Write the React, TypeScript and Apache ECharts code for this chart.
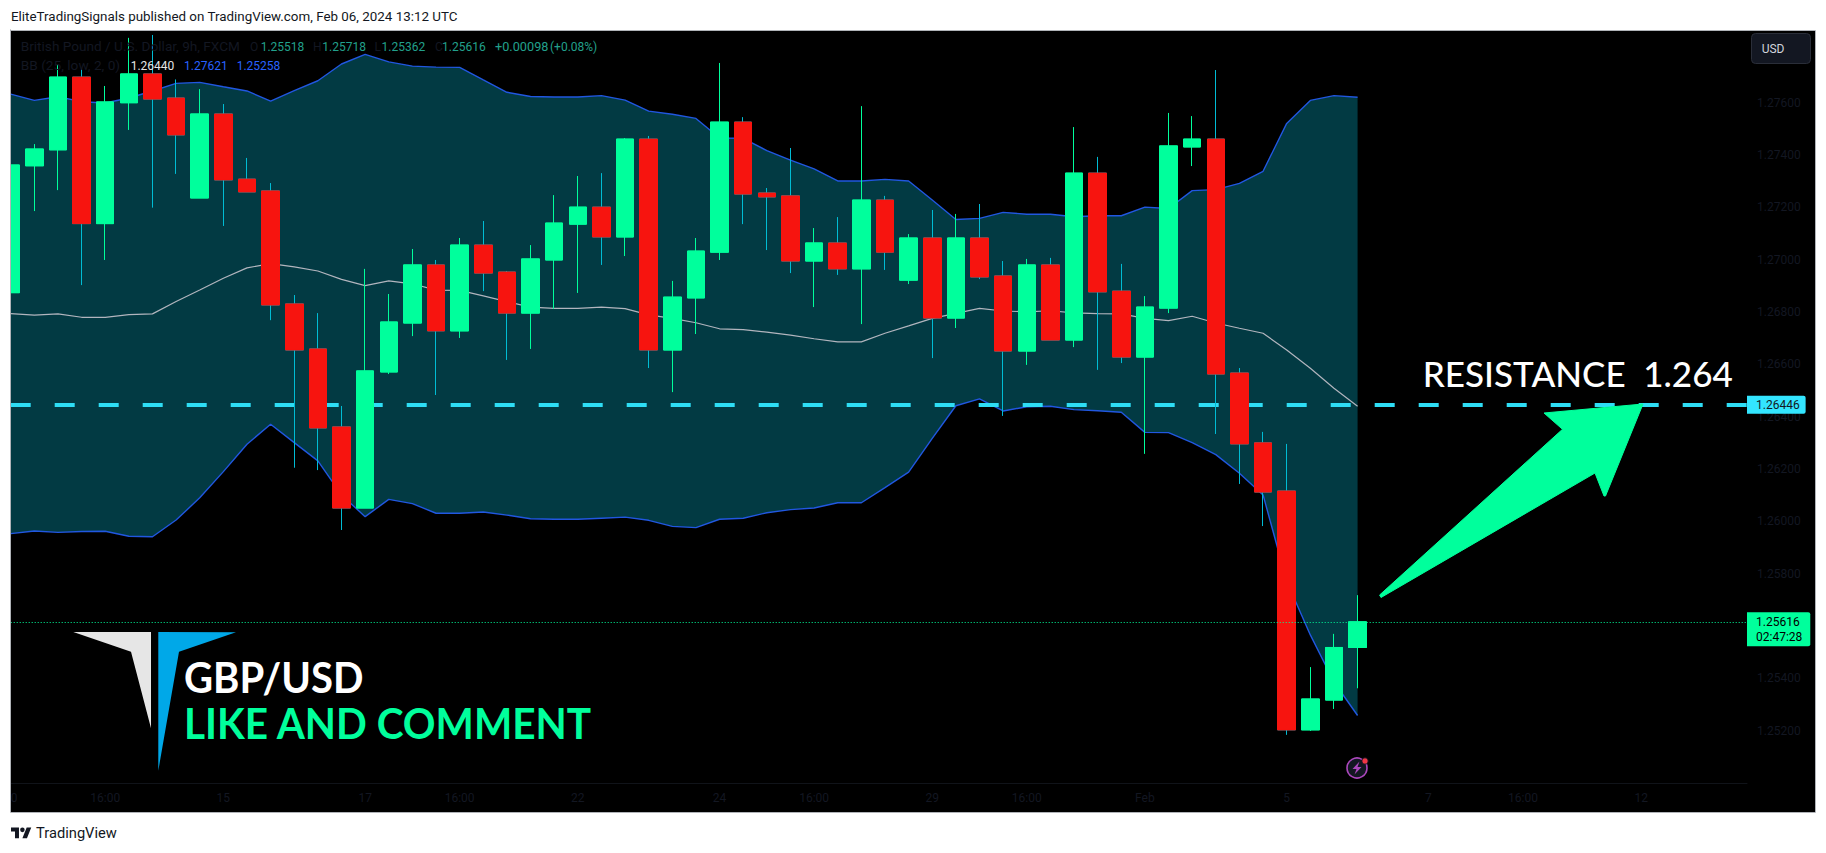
import React, { useEffect, useRef } from "react";
import * as echarts from "echarts";

const opens = [1.26874,1.27359,1.27420,1.27698,1.27138,1.27600,1.27710,1.27618,1.27236,1.27557,1.27308,1.27263,1.26831,1.26659,1.26361,1.26051,1.26571,1.26758,1.26980,1.26728,1.27056,1.26953,1.26796,1.26999,1.27136,1.27201,1.27087,1.27461,1.26655,1.26854,1.27029,1.27526,1.27255,1.27244,1.26995,1.27064,1.26965,1.27228,1.26922,1.27083,1.26777,1.27083,1.26938,1.26651,1.26980,1.26693,1.27331,1.26880,1.26628,1.26815,1.27431,1.27461,1.26567,1.26300,1.26116,1.25203,1.25317,1.25518];
const closes = [1.27362,1.27423,1.27698,1.27138,1.27603,1.27710,1.27614,1.27477,1.27557,1.27305,1.27259,1.26827,1.26655,1.26357,1.26051,1.26575,1.26762,1.26980,1.26728,1.27056,1.26949,1.26796,1.27003,1.27140,1.27201,1.27087,1.27461,1.26655,1.26857,1.27033,1.27526,1.27251,1.27240,1.26995,1.27064,1.26965,1.27228,1.27029,1.27083,1.26777,1.27083,1.26934,1.26651,1.26980,1.26693,1.27331,1.26877,1.26628,1.26819,1.27435,1.27461,1.26563,1.26296,1.26112,1.25203,1.25321,1.25518,1.25616];
const lows = [1.26874,1.27186,1.27266,1.26903,1.26999,1.27496,1.27199,1.27328,1.27236,1.27129,1.27259,1.26769,1.26205,1.26196,1.25967,1.26051,1.26563,1.26708,1.26483,1.26701,1.26880,1.26617,1.26659,1.26812,1.26873,1.26980,1.27014,1.26586,1.26494,1.26716,1.26999,1.27136,1.27037,1.26949,1.26819,1.26942,1.26754,1.26961,1.26907,1.26624,1.26739,1.26926,1.26403,1.26598,1.26693,1.26666,1.26579,1.26605,1.26258,1.26796,1.27358,1.26334,1.26143,1.25982,1.25184,1.25199,1.25283,1.25362];
const highs = [1.27413,1.27442,1.27744,1.27728,1.27664,1.27848,1.27859,1.27689,1.27652,1.27595,1.27389,1.27293,1.26865,1.26796,1.26441,1.26965,1.26869,1.27041,1.26999,1.27083,1.27148,1.26957,1.27056,1.27247,1.27320,1.27331,1.27465,1.27473,1.26919,1.27083,1.27752,1.27545,1.27274,1.27427,1.27121,1.27163,1.27587,1.27244,1.27098,1.27190,1.27175,1.27213,1.26995,1.27003,1.27007,1.27507,1.27393,1.26984,1.26861,1.27561,1.27549,1.27725,1.26586,1.26342,1.26296,1.25443,1.25570,1.25718];
const bbUpper = [1.27633,1.27609,1.27623,1.27604,1.27599,1.27618,1.27645,1.27674,1.27678,1.27661,1.27645,1.27606,1.27646,1.27684,1.27748,1.27785,1.27756,1.27740,1.27736,1.27735,1.27687,1.27640,1.27624,1.27622,1.27622,1.27627,1.27610,1.27568,1.27556,1.27540,1.27465,1.27464,1.27417,1.27381,1.27347,1.27301,1.27301,1.27307,1.27301,1.27228,1.27154,1.27158,1.27181,1.27174,1.27174,1.27164,1.27168,1.27168,1.27201,1.27196,1.27264,1.27268,1.27292,1.27338,1.27521,1.27609,1.27627,1.27621];
const bbLower = [1.25953,1.25963,1.25958,1.25961,1.25962,1.25943,1.25941,1.26005,1.26090,1.26190,1.26295,1.26371,1.26301,1.26231,1.26101,1.26018,1.26084,1.26068,1.26031,1.26031,1.26036,1.26024,1.26010,1.26008,1.26008,1.26012,1.26016,1.26004,1.25981,1.25976,1.26008,1.26012,1.26033,1.26045,1.26051,1.26071,1.26071,1.26129,1.26188,1.26317,1.26442,1.26468,1.26422,1.26438,1.26440,1.26427,1.26423,1.26417,1.26340,1.26339,1.26301,1.26255,1.26184,1.26101,1.25771,1.25566,1.25386,1.25258];
const bbMid = [1.26794,1.26788,1.26793,1.26780,1.26780,1.26790,1.26793,1.26840,1.26884,1.26929,1.26969,1.26985,1.26973,1.26957,1.26925,1.26901,1.26919,1.26908,1.26884,1.26883,1.26862,1.26840,1.26819,1.26814,1.26814,1.26819,1.26813,1.26789,1.26776,1.26759,1.26736,1.26733,1.26723,1.26712,1.26698,1.26686,1.26686,1.26719,1.26747,1.26776,1.26795,1.26814,1.26804,1.26801,1.26805,1.26797,1.26794,1.26793,1.26776,1.26767,1.26784,1.26758,1.26738,1.26719,1.26655,1.26585,1.26509,1.26440];

const timeTickIndex = [0,4,9,15,19,24,30,34,39,43,48,54,60,64,69];
const timeTickLabels = ["10","16:00","15","17","16:00","22","24","16:00","29","16:00","Feb","5","7","16:00","12"];
const hiddenPriceTicks = ["1.27800", "1.25600"];
const resistanceLevel = 1.26446;
const lastPrice = 1.25616;
const countdown = "02:47:28";

const GREEN = "#00FF9C";
const RED = "#F7140F";
const CYAN_WICK = "#00BCD4";
const DIM = "#131722";
const TEAL = "#22A08C";
const FONT = "Roboto";

echarts.graphic.registerShape(
  "tvLogo",
  echarts.graphic.extendPath("M14 22H7V11H0V4h14v18zM28 22h-8l7.5-18h8L28 22zM24 8a4 4 0 1 0-8 0 4 4 0 0 0 8 0z", {})
);

const legendText = (x: number, y: number, text: string, fill: string, scaleX = 1) => ({
  type: "text", x, y, scaleX, z: 100, silent: true,
  style: { text, fill, font: `12px ${FONT}`, verticalAlign: "middle", align: "left" },
});

export default function App() {
  const ref = useRef<HTMLDivElement>(null);
  useEffect(() => {
    const chart = echarts.init(ref.current!, null, { renderer: "svg" });
    const idx = opens.map((_, i) => i);
    const option: any = {
      animation: false,
      backgroundColor: "#ffffff",
      grid: { left: 10.7, right: 79, top: 30, bottom: 70, containLabel: false },
      xAxis: {
        type: "value", min: 0, max: 73.48, splitLine: { show: false },
        axisLine: { show: true, lineStyle: { color: "#101319" } }, axisTick: { show: false },
        axisLabel: {
          customValues: timeTickIndex, margin: 9, color: DIM, fontFamily: FONT, fontSize: 12,
          hideOverlap: false,
          formatter: (v: number) => timeTickLabels[timeTickIndex.indexOf(v)] ?? "",
        },
      },
      yAxis: {
        type: "value", position: "right", min: 1.25, max: 1.27878, interval: 0.002, scale: true,
        splitLine: { show: false }, axisTick: { show: false },
        axisLine: { show: true, lineStyle: { color: "#101319" } },
        axisLabel: {
          showMinLabel: false, showMaxLabel: false, margin: 10, color: DIM, fontFamily: FONT, fontSize: 12,
          formatter: (v: number) => {
            const s = v.toFixed(5);
            return hiddenPriceTicks.includes(s) ? "" : s;
          },
        },
      },
      series: [
        {
          type: "custom", name: "band", z: 1, silent: true,
          encode: { x: 0, y: 1 },
          data: [[0, bbUpper[0]], [idx.length - 1, bbLower[idx.length - 1]]],
          renderItem: (params: any, api: any) => {
            if (params.dataIndex !== 0) return null;
            const top = idx.map((i) => api.coord([i, bbUpper[i]]));
            const bottom = idx.slice().reverse().map((i) => api.coord([i, bbLower[i]]));
            return { type: "polygon", shape: { points: [...top, ...bottom] }, style: { fill: "#023A43" } };
          },
        },
        {
          type: "line", name: "lower", z: 3, data: idx.map((i) => [i, bbLower[i]]), symbol: "none",
          lineStyle: { color: "#2157E0", width: 1.4 },
          markLine: {
            z: 5, silent: true, symbol: "none", precision: 5,
            lineStyle: { color: "#2EDDF5", width: 4, type: [20, 24], opacity: 1 },
            label: {
              position: "end", distance: 0, formatter: resistanceLevel.toFixed(5), color: DIM,
              backgroundColor: "#33E5FF", fontFamily: FONT, fontSize: 12,
              padding: [3, 6, 3, 9], borderRadius: [0, 2, 2, 0],
            },
            data: [{ yAxis: resistanceLevel }],
          },
        },
        {
          type: "line", name: "upper", z: 3, data: idx.map((i) => [i, bbUpper[i]]), symbol: "none",
          lineStyle: { color: "#2157E0", width: 1.4 },
        },
        {
          type: "line", name: "basis", z: 4, data: idx.map((i) => [i, bbMid[i]]), symbol: "none",
          lineStyle: { color: "#B2B5BE", width: 1.2 },
        },
        {
          type: "candlestick", name: "wicks", z: 6, barWidth: 18,
          encode: { x: 0, y: [1, 2, 3, 4] },
          data: idx.map((i) => [i, opens[i], closes[i], lows[i], highs[i]]),
          itemStyle: { color: GREEN, color0: RED, borderColor: GREEN, borderColor0: CYAN_WICK, borderWidth: 1 },
        },
        {
          type: "candlestick", name: "bodies", z: 7, barWidth: 18,
          encode: { x: 0, y: [1, 2, 3, 4] },
          data: idx.map((i) => [i, opens[i], closes[i], Math.min(opens[i], closes[i]), Math.max(opens[i], closes[i])]),
          itemStyle: { color: GREEN, color0: RED, borderColor: GREEN, borderColor0: RED, borderWidth: 1 },
          markLine: {
            z: 8, silent: true, symbol: "none", precision: 5,
            lineStyle: { color: GREEN, width: 1, type: [1, 2], opacity: 1 },
            label: {
              position: "end", distance: 0, offset: [0, 7.5], align: "left", opacity: 1,
              formatter: `${lastPrice.toFixed(5)}\n${countdown}`, color: "#000000",
              backgroundColor: GREEN, fontFamily: FONT, fontSize: 12, lineHeight: 15,
              padding: [2, 8, 2, 9], borderRadius: [0, 2, 2, 0],
            },
            data: [{ yAxis: lastPrice }],
          },
        },
      ],
      graphic: [
        { type: "rect", z: -1, silent: true, shape: { x: 11, y: 30, width: 1804, height: 783 }, style: { fill: "#000000" } },
        { type: "rect", z: 99, silent: true, shape: { x: 0, y: 28, width: 10.5, height: 790 }, style: { fill: "#ffffff" } },
        { type: "rect", z: 100, silent: true, shape: { x: 10.5, y: 30.5, width: 1805, height: 782 }, style: { fill: "none", stroke: "#B0B3B8", lineWidth: 1 } },
        { type: "text", x: 11, y: 16.5, scaleX: 1.03, z: 100, silent: true, style: { text: "EliteTradingSignals published on TradingView.com, Feb 06, 2024 13:12 UTC", fill: DIM, font: `13px ${FONT}`, verticalAlign: "middle" } },
        { type: "tvLogo", x: 11, y: 825, scaleX: 0.57, scaleY: 0.6, z: 100, silent: true, style: { fill: DIM } },
        { type: "text", x: 36, y: 834, scaleX: 1.05, z: 100, silent: true, style: { text: "TradingView", fill: DIM, font: `14px ${FONT}`, verticalAlign: "middle" } },

        legendText(20.7, 46.7, "British Pound / U.S. Dollar, 9h, FXCM", DIM, 1.135),
        legendText(250, 46.7, "O", DIM), legendText(260.7, 46.7, "1.25518", TEAL),
        legendText(313, 46.7, "H", DIM), legendText(322.3, 46.7, "1.25718", TEAL),
        legendText(374.5, 46.7, "L", DIM), legendText(381.6, 46.7, "1.25362", TEAL),
        legendText(435, 46.7, "C", DIM), legendText(442, 46.7, "1.25616", TEAL),
        legendText(495, 46.7, "+0.00098", TEAL, 1.06), legendText(550, 46.7, "(+0.08%)", TEAL),
        legendText(20.7, 65.7, "BB (25, low, 2, 0)", DIM, 1.14),
        legendText(130.7, 65.7, "1.26440", "#E6E6E6"),
        legendText(184, 65.7, "1.27621", "#2962FF"),
        legendText(236.7, 65.7, "1.25258", "#2962FF"),

        { type: "rect", z: 100, silent: true, shape: { x: 1751.5, y: 33.5, width: 59, height: 30, r: 4 }, style: { fill: "#131722", stroke: "#2A2E39", lineWidth: 1 } },
        { type: "text", x: 1761.7, y: 48.7, z: 101, silent: true, style: { text: "USD", fill: "#D1D4DC", font: `12px ${FONT}`, verticalAlign: "middle" } },

        { type: "polygon", z: 50, silent: true, shape: { points: [[73.3, 632], [151, 632], [151, 728.3], [131, 651.7]] }, style: { fill: "#E6E6E6" } },
        { type: "polygon", z: 50, silent: true, shape: { points: [[158.3, 632], [236, 632.3], [179, 651.7], [158.3, 770.7]] }, style: { fill: "#00A8E8" } },
        { type: "text", x: 184, y: 676.7, scaleX: 0.955, z: 50, silent: true, style: { text: "GBP/USD", fill: "#FFFFFF", font: `700 42px Lato`, verticalAlign: "middle" } },
        { type: "text", x: 184, y: 722.5, scaleX: 0.965, z: 50, silent: true, style: { text: "LIKE AND COMMENT", fill: GREEN, font: `700 42px Lato`, verticalAlign: "middle" } },
        { type: "text", x: 1422.8, y: 373.5, scaleX: 1.03, z: 50, silent: true, style: { text: "RESISTANCE  1.264", fill: "#FFFFFF", font: `500 34px Lato`, verticalAlign: "middle" } },

        { type: "polygon", z: 50, silent: true, shape: { points: [[1643, 404], [1544, 413], [1562.5, 429.3], [1379.6, 595], [1381, 597.5], [1595, 473], [1604, 496], [1605.5, 496]] }, style: { fill: GREEN, stroke: GREEN, lineWidth: 1, lineJoin: "round" } },

        { type: "circle", z: 50, silent: true, shape: { cx: 1357, cy: 768, r: 10 }, style: { fill: "#131722", stroke: "#AB47BC", lineWidth: 1.6 } },
        { type: "polygon", z: 51, silent: true, shape: { points: [[1359.5, 761.5], [1352.5, 769], [1356.5, 769], [1354.5, 774.5], [1361.5, 767], [1357.5, 767]] }, style: { fill: "#AB47BC" } },
        { type: "circle", z: 51, silent: true, shape: { cx: 1365, cy: 761, r: 3.2 }, style: { fill: "#F23645", stroke: "#131722", lineWidth: 1 } },
      ],
    };
    chart.setOption(option);
    return () => chart.dispose();
  }, []);
  return <div ref={ref} style={{ position: "absolute", left: 0, top: 0, width: 1826, height: 853 }} />;
}
